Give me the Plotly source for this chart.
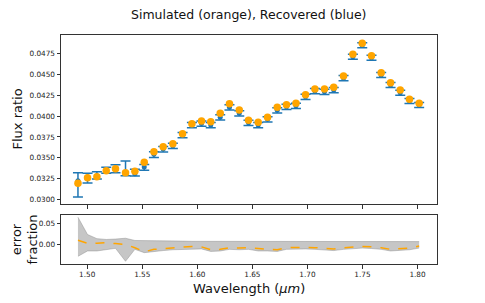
import plotly.graph_objects as go

# ---------------- data ----------------
wavelength = [1.4916, 1.5003, 1.5088, 1.5173, 1.5257, 1.5348, 1.5433, 1.5518, 1.5606, 1.5690,
              1.5778, 1.5866, 1.5951, 1.6038, 1.6122, 1.6208, 1.6292, 1.6381, 1.6465, 1.6553,
              1.6638, 1.6726, 1.6810, 1.6896, 1.6983, 1.7068, 1.7155, 1.7239, 1.7328, 1.7413,
              1.7498, 1.7582, 1.7670, 1.7755, 1.7843, 1.7927, 1.8015]

simulated = [0.03194, 0.03261, 0.03273, 0.03345, 0.03369, 0.03321, 0.03338, 0.03446, 0.03573, 0.03633,
             0.03669, 0.03789, 0.03909, 0.03941, 0.03933, 0.04033, 0.04148, 0.04073, 0.03949, 0.03925,
             0.03985, 0.04105, 0.04136, 0.04153, 0.04256, 0.04324, 0.04324, 0.04345, 0.04480, 0.04740,
             0.04872, 0.04724, 0.04520, 0.04400, 0.04312, 0.04201, 0.04153]

recovered = [0.03225, 0.03270, 0.03285, 0.03354, 0.03374, 0.03326, 0.03309, 0.03390, 0.03542, 0.03605,
             0.03645, 0.03773, 0.03893, 0.03911, 0.03893, 0.03985, 0.04105, 0.04033, 0.03921, 0.03893,
             0.03961, 0.04069, 0.04112, 0.04124, 0.04232, 0.04300, 0.04292, 0.04312, 0.04456, 0.04712,
             0.04848, 0.04700, 0.04492, 0.04372, 0.04280, 0.04181, 0.04133]

err_up = [0.00096, 0.00044, 0.00048, 0.00032, 0.00043, 0.00135, 0.00053, 0.00030, 0.00030, 0.00030,
          0.00030, 0.00030, 0.00030, 0.00030, 0.00030, 0.00030, 0.00030, 0.00030, 0.00030, 0.00030,
          0.00030, 0.00030, 0.00030, 0.00030, 0.00030, 0.00030, 0.00030, 0.00030, 0.00030, 0.00030,
          0.00030, 0.00030, 0.00030, 0.00030, 0.00030, 0.00030, 0.00030]

err_down = [0.00195, 0.00072, 0.00040, 0.00040, 0.00053, 0.00041, 0.00028, 0.00040, 0.00038, 0.00035,
            0.00033, 0.00033, 0.00033, 0.00033, 0.00033, 0.00033, 0.00033, 0.00033, 0.00033, 0.00033,
            0.00033, 0.00033, 0.00033, 0.00033, 0.00033, 0.00033, 0.00033, 0.00033, 0.00033, 0.00030,
            0.00030, 0.00030, 0.00030, 0.00030, 0.00030, 0.00030, 0.00030]

error_fraction = [0.010, 0.0024, 0.003, 0.004, 0.002, 0.000, -0.008, -0.018, -0.012, -0.010,
                  -0.008, -0.007, -0.005, -0.006, -0.013, -0.012, -0.008, -0.009, -0.008, -0.010,
                  -0.012, -0.013, -0.008, -0.007, -0.007, -0.008, -0.010, -0.011, -0.008, -0.006,
                  -0.005, -0.006, -0.008, -0.012, -0.011, -0.009, -0.004]

band_upper = [0.066, 0.024, 0.014, 0.012, 0.013, 0.015, 0.0095, 0.0095, 0.009, 0.008,
              0.008, 0.008, 0.0075, 0.0075, 0.007, 0.007, 0.0075, 0.007, 0.007, 0.007,
              0.007, 0.0072, 0.0072, 0.0072, 0.007, 0.007, 0.0068, 0.0068, 0.007, 0.007,
              0.0072, 0.007, 0.0068, 0.0068, 0.0068, 0.0068, 0.0068]

band_lower = [-0.029, -0.016, -0.016, -0.013, -0.0095, -0.041, -0.012, -0.020, -0.017, -0.015,
              -0.013, -0.012, -0.011, -0.011, -0.017, -0.016, -0.012, -0.013, -0.012, -0.016,
              -0.016, -0.017, -0.012, -0.011, -0.011, -0.012, -0.014, -0.015, -0.012, -0.010,
              -0.009, -0.010, -0.012, -0.016, -0.015, -0.013, -0.009]

flux_ticks = [0.0300, 0.0325, 0.0350, 0.0375, 0.0400, 0.0425, 0.0450, 0.0475]
frac_ticks = [0.00, 0.05]
wl_ticks = [1.50, 1.55, 1.60, 1.65, 1.70, 1.75, 1.80]

# ---------------- figure ----------------
BLUE = "#1f77b4"
ORANGE = "#ffa500"
FONT = "DejaVu Sans"

fig = go.Figure()

fig.add_trace(go.Scatter(
    x=wavelength, y=recovered, mode="markers",
    marker=dict(color=BLUE, size=5),
    error_y=dict(type="data", symmetric=False, array=err_up, arrayminus=err_down,
                 color=BLUE, thickness=1.5, width=5),
    xaxis="x", yaxis="y", showlegend=False))

fig.add_trace(go.Scatter(
    x=wavelength, y=simulated, mode="markers",
    marker=dict(color=ORANGE, size=7.5),
    xaxis="x", yaxis="y", showlegend=False))

fig.add_trace(go.Scatter(
    x=wavelength, y=band_lower, mode="lines",
    line=dict(color="rgba(128,128,128,0.5)", width=0.8),
    xaxis="x2", yaxis="y2", showlegend=False))
fig.add_trace(go.Scatter(
    x=wavelength, y=band_upper, mode="lines", fill="tonexty",
    fillcolor="rgba(128,128,128,0.45)",
    line=dict(color="rgba(128,128,128,0.5)", width=0.8),
    xaxis="x2", yaxis="y2", showlegend=False))
fig.add_trace(go.Scatter(
    x=wavelength, y=error_fraction, mode="lines",
    line=dict(color=ORANGE, width=1.5, dash="dash"),
    xaxis="x2", yaxis="y2", showlegend=False))

axis_common = dict(showline=True, linecolor="#333333", linewidth=1, mirror=True,
                   ticks="outside", ticklen=3.5, tickcolor="#333333", tickwidth=1,
                   showgrid=False, zeroline=False,
                   tickfont=dict(family=FONT, size=7.3, color="#222222"))

x_range = [1.4762, 1.8177]

fig.update_layout(
    width=485, height=303,
    margin=dict(l=61, r=48, t=35, b=39),
    paper_bgcolor="white", plot_bgcolor="white",
    font=dict(family=FONT, color="#111111"),
    xaxis=dict(domain=[0, 1], anchor="y", range=x_range, tickvals=wl_ticks,
               showticklabels=False, **axis_common),
    yaxis=dict(domain=[0.262, 1], anchor="x", range=[0.02946, 0.04972],
               tickvals=flux_ticks, tickformat=".4f", **axis_common),
    xaxis2=dict(domain=[0, 1], anchor="y2", range=x_range, tickvals=wl_ticks,
                tickformat=".2f", matches="x", **axis_common),
    yaxis2=dict(domain=[0, 0.214], anchor="x2", range=[-0.0476, 0.0714],
                tickvals=frac_ticks, tickformat=".2f", **axis_common),
    annotations=[
        dict(text="Simulated (orange), Recovered (blue)", xref="paper", yref="paper",
             x=0.5, y=1, yshift=11, xanchor="center", yanchor="bottom", showarrow=False,
             font=dict(family=FONT, size=12.5, color="#111111")),
        dict(text="Flux ratio", xref="paper", yref="paper", x=0, xshift=-43,
             y=0.631, xanchor="center", yanchor="middle", textangle=-90, showarrow=False,
             font=dict(family=FONT, size=13, color="#111111")),
        dict(text="error<br>fraction", xref="paper", yref="paper", x=0, xshift=-36,
             y=0.107, xanchor="center", yanchor="middle", textangle=-90, showarrow=False,
             font=dict(family=FONT, size=13, color="#111111")),
        dict(text="Wavelength (<i>μm</i>)", xref="paper", yref="paper", x=0.5,
             y=0, yshift=-15, xanchor="center", yanchor="top", showarrow=False,
             font=dict(family=FONT, size=13, color="#111111")),
    ],
)

fig.write_html("out.html", config={"displayModeBar": False},
               post_script="document.body.style.margin='0';document.body.style.padding='0';")
